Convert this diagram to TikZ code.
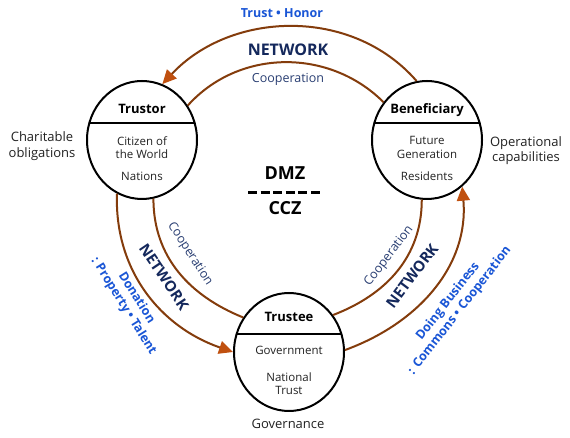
\documentclass[tikz,border=0pt]{standalone}
\usepackage{fontspec}
\setmainfont{Open Sans}
\usetikzlibrary{arrows.meta,shapes.geometric}
\definecolor{linec}{HTML}{843C0C}
\definecolor{arrowc}{HTML}{C0500F}
\definecolor{navy}{HTML}{14285C}
\definecolor{coop}{HTML}{2A3F73}
\definecolor{blue1}{HTML}{1A56D6}
\definecolor{bodyc}{HTML}{222222}
\tikzset{
  role/.style={ellipse, draw=black, line width=2pt, minimum width=110pt, minimum height=118pt, inner sep=0pt,
    path picture={\draw[line width=1.6pt] ([yshift=#1]path picture bounding box.west) -- ([yshift=#1]path picture bounding box.east);}},
  ttl/.style={font=\bfseries\fontsize{13}{15}\selectfont, text=black},
  body/.style={font=\fontsize{11.5}{13.5}\selectfont, text=bodyc, align=center},
  side/.style={font=\fontsize{13}{15.5}\selectfont, text=bodyc, align=center},
  ring/.style={draw=linec, line width=2pt},
  arr/.style={ring, -{Triangle[length=14pt,width=13pt,color=arrowc]}},
  netw/.style={font=\bfseries\fontsize{16}{18}\selectfont, text=navy},
  netr/.style={font=\bfseries\fontsize{15}{17}\selectfont, text=navy},
  coopl/.style={font=\fontsize{12.5}{14}\selectfont, text=coop},
  bluel/.style={font=\bfseries\fontsize{12.5}{15}\selectfont, text=blue1, align=center},
  zone/.style={font=\bfseries\fontsize{18}{20}\selectfont, text=black},
}
\begin{document}
\begin{tikzpicture}[x=1pt,y=1pt]
\useasboundingbox (0,0) rectangle (570,438);
\fill[white] (0,0) rectangle (570,438);

% role nodes
\node[role=17pt] (tru) at (142,298) {};
\node[role=17pt] (ben) at (427,298) {};
\node[role=18pt] (tee) at (289,86) {};

% texts inside
\node[ttl] (trut) at (142,329) {Trustor};
\node[body] (trub1) at (142,290.5) {Citizen of\\the World};
\node[body] (trub2) at (142,262) {Nations};
\node[ttl] (bent) at (427,328) {Beneficiary};
\node[body] (benb1) at (427,290.5) {Future\\Generation};
\node[body] (benb2) at (427,262) {Residents};
\node[ttl] (teet) at (289,121) {Trustee};
\node[body] (teeb1) at (289,88) {Government};
\node[body] (teeb2) at (289,54.5) {National\\Trust};

% side labels
\node[side] (charit) at (42,292) {Charitable\\obligations};
\node[side] (operat) at (526,287.5) {Operational\\capabilities};
\node[side] (gov) at (288,14) {Governance};

% centre
\node[zone] (dmz) at (285,265) {DMZ};
\node[zone] (ccz) at (285,230) {CCZ};
\coordinate (dl) at (248,245);
\coordinate (dr) at (322,245);
\draw[line width=3pt, dash pattern=on 9pt off 3.6pt] (dl) -- (dr);

% ring connectors
\draw[arr] (ben.100) to[out=131, in=47] (tru.70);
\draw[ring] (tru.37) to[out=48, in=135] (ben.139);
\draw[arr] (tru.245) to[out=268, in=161] (tee.180);
\draw[ring] (tru.281) to[out=270, in=158] (tee.143);
\draw[ring] (tee.40) to[out=21, in=270] (ben.265);
\draw[arr] (tee.2) to[out=20, in=275] (ben.307);

% ring labels
\node[bluel] (th) at (282,425) {Trust • Honor};
\node[netw] (nettop) at (288,388) {NETWORK};
\node[coopl] (cooptop) at (288,359) {Cooperation};
\node[coopl, rotate=-57] (coopl) at (190,184) {Cooperation};
\node[netr, rotate=-56] (netl) at (164,161) {NETWORK};
\node[bluel, rotate=-58] (don) at (130,136) {Donation\\: Property • Talent};
\node[coopl, rotate=53] (coopr) at (389,182) {Cooperation};
\node[netr, rotate=53] (netrt) at (412,162) {NETWORK};
\node[bluel, rotate=52] (biz) at (454,132) {Doing Business\\: Commons • Cooperation};
\end{tikzpicture}
\end{document}
